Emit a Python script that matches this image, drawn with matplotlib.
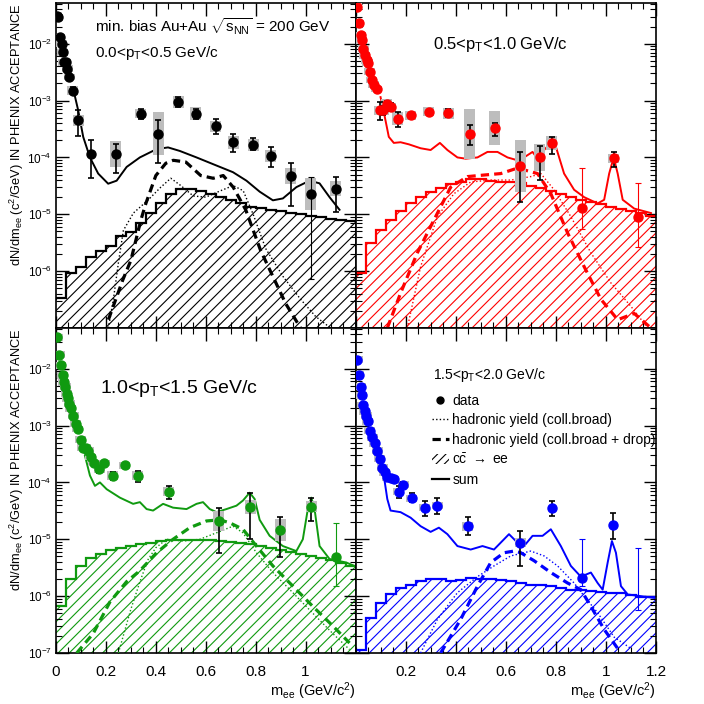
import numpy as np
import matplotlib
matplotlib.use("Agg")
import matplotlib.pyplot as plt
from matplotlib.lines import Line2D
from matplotlib.patches import Patch, Rectangle
from matplotlib.ticker import LogLocator, MultipleLocator, FixedLocator, FuncFormatter

plt.rcParams['font.family'] = ['Liberation Sans', 'DejaVu Sans']
plt.rcParams['mathtext.fontset'] = 'custom'
plt.rcParams['mathtext.rm'] = 'Liberation Sans'
plt.rcParams['mathtext.it'] = 'Liberation Sans:italic'
plt.rcParams['mathtext.default'] = 'regular'
plt.rcParams['hatch.linewidth'] = 0.8

# charm (cc -> ee) histogram, 30 bins of 0.04 GeV
hist_edges = np.linspace(0.0, 1.2, 31)

# ---------------- panel A : 0.0 < pT < 0.5 (black)
a_m = [0.004, 0.008, 0.016, 0.023, 0.027, 0.032, 0.040, 0.045, 0.053, 0.067, 0.089, 0.14,
       0.24, 0.34, 0.41, 0.49, 0.56, 0.64, 0.71, 0.79, 0.86, 0.94, 1.02, 1.12]
a_y = [0.031, 0.029, 0.013, 0.010, 0.0071, 0.0047, 0.0047, 0.0036, 0.0026, 0.0015, 4.5e-4, 1.15e-4,
       1.15e-4, 5.9e-4, 2.6e-4, 9.3e-4, 5.9e-4, 3.5e-4, 1.85e-4, 1.67e-4, 1.05e-4, 4.7e-5, 2.3e-5, 2.8e-5]
a_lo = [0.029, 0.027, 0.012, 0.0093, 0.0066, 0.0043, 0.0043, 0.0033, 0.0024, 0.0013, 2.4e-4, 4.3e-5,
        5.4e-5, 4.8e-4, 7.9e-5, 7.6e-4, 4.8e-4, 2.6e-4, 1.26e-4, 1.35e-4, 6.9e-5, 1.4e-5, 7.2e-7, 1.1e-5]
a_hi = [0.033, 0.031, 0.014, 0.011, 0.0077, 0.0051, 0.0051, 0.0039, 0.0028, 0.0017, 6.7e-4, 2.0e-4,
        1.75e-4, 7.2e-4, 4.5e-4, 1.15e-3, 7.2e-4, 4.7e-4, 2.6e-4, 2.2e-4, 1.5e-4, 7.9e-5, 4.5e-5, 4.5e-5]
a_sys = [1.15, 1.15, 1.15, 1.15, 1.15, 1.15, 1.15, 1.15, 1.15, 1.2, 1.25, 1.0,
         1.7, 1.2, 2.4, 1.27, 1.3, 1.27, 1.3, 1.27, 1.27, 1.4, 1.9, 1.35]
a_thin = [False] * 22 + [True, False]
a_hist = [3.4e-7, 9.1e-7, 1.2e-6, 1.75e-6, 2.3e-6, 2.75e-6, 4.2e-6, 4.9e-6, 7.1e-6, 1.05e-5,
          1.55e-5, 2.24e-5, 2.8e-5, 2.8e-5, 2.6e-5, 2.3e-5, 2.0e-5, 1.78e-5, 1.6e-5, 1.35e-5,
          1.28e-5, 1.2e-5, 1.14e-5, 1.07e-5, 1.0e-5, 9.4e-6, 8.9e-6, 8.3e-6, 7.9e-6, 7.6e-6]
a_sum_m = [0.069, 0.089, 0.109, 0.136, 0.169, 0.209, 0.243, 0.283, 0.336, 0.403, 0.449, 0.496,
           0.563, 0.643, 0.709, 0.763, 0.816, 0.869, 0.909, 0.963, 1.016, 1.056, 1.096, 1.136]
a_sum_y = [1.6e-3, 6.7e-4, 2.3e-4, 1.0e-4, 5.2e-5, 3.45e-5, 3.9e-5, 6.8e-5, 1.0e-4, 1.4e-4, 1.5e-4, 1.3e-4,
           1.0e-4, 7.2e-5, 5.5e-5, 3.9e-5, 2.5e-5, 1.76e-5, 1.9e-5, 3.0e-5, 3.9e-5, 3.5e-5, 2.0e-5, 1.2e-5]
a_drop_m = [0.21, 0.267, 0.30, 0.32, 0.34, 0.36, 0.40, 0.44, 0.47, 0.52, 0.58, 0.63, 0.67, 0.71,
            0.76, 0.82, 0.87, 0.92, 0.98]
a_drop_y = [1.4e-7, 6.9e-7, 1.55e-6, 3.5e-6, 7.9e-6, 1.55e-5, 4.8e-5, 7.9e-5, 8.9e-5, 8.3e-5, 4.8e-5,
            4.3e-5, 4.8e-5, 3.0e-5, 1.2e-5, 2.3e-6, 7.9e-7, 2.7e-7, 1e-7]
a_coll_m = [0.21, 0.23, 0.25, 0.27, 0.31, 0.37, 0.42, 0.46, 0.50, 0.55, 0.60, 0.66, 0.71, 0.75,
            0.79, 0.84, 0.91, 0.98, 1.04, 1.10]
a_coll_y = [1e-7, 3.2e-7, 1.4e-6, 5.2e-6, 1.05e-5, 1.8e-5, 3.0e-5, 4.3e-5, 3.2e-5, 2.1e-5, 2.0e-5,
            2.6e-5, 3.2e-5, 2.6e-5, 1.0e-5, 2.5e-6, 8e-7, 3.2e-7, 1.6e-7, 1e-7]

# ---------------- panel B : 0.5 < pT < 1.0 (red)
b_m = [0.004, 0.013, 0.020, 0.024, 0.031, 0.036, 0.044, 0.049, 0.056, 0.064, 0.073, 0.084, 0.097, 0.111,
       0.124, 0.140, 0.169, 0.22, 0.293, 0.371, 0.457, 0.556, 0.657, 0.735, 0.784, 0.903, 1.031, 1.129]
b_y = [0.045, 0.023, 0.014, 0.0115, 0.0082, 0.0063, 0.0051, 0.0046, 0.0032, 0.0023, 0.0019, 0.0016, 6.7e-4,
       6.7e-4, 8.8e-4, 7.7e-4, 4.8e-4, 5.5e-4, 6.4e-4, 6.0e-4, 2.6e-4, 3.3e-4, 7.1e-5, 1.0e-4, 1.8e-4,
       1.27e-5, 9.6e-5, 8.8e-6]
b_lo = [0.042, 0.021, 0.013, 0.0107, 0.0076, 0.0058, 0.0047, 0.0042, 0.0029, 0.0021, 0.0017, 0.0014, 4.5e-4,
        5.6e-4, 7.6e-4, 6.5e-4, 3.4e-4, 5.1e-4, 6.0e-4, 5.2e-4, 1.66e-4, 2.4e-4, 1.65e-5, 4.0e-5, 1.17e-4,
        5.4e-6, 6.9e-5, 2.7e-6]
b_hi = [0.048, 0.025, 0.015, 0.0123, 0.0088, 0.0068, 0.0055, 0.0050, 0.0035, 0.0025, 0.0021, 0.0018, 9.5e-4,
        7.9e-4, 1.0e-3, 9.0e-4, 6.2e-4, 5.9e-4, 6.8e-4, 7.1e-4, 3.7e-4, 4.1e-4, 1.25e-4, 1.6e-4, 2.3e-4,
        6.4e-5, 1.25e-4, 3.5e-5]
b_sys = [1.15] * 12 + [1.2, 1.2, 1.2, 1.2, 1.3, 1.2, 1.2, 1.25, 2.75, 2.0, 2.9, 1.7, 1.35, 1.0, 1.2, 1.0]
b_thin = [False] * 25 + [True, False, True]
b_hist = [9.1e-7, 3.1e-6, 5.3e-6, 7.9e-6, 1.12e-5, 1.55e-5, 2.0e-5, 2.5e-5, 2.9e-5, 3.4e-5,
          3.7e-5, 4.1e-5, 4.1e-5, 3.9e-5, 3.7e-5, 3.7e-5, 3.5e-5, 3.2e-5, 2.9e-5, 2.6e-5,
          2.3e-5, 2.0e-5, 1.8e-5, 1.65e-5, 1.5e-5, 1.35e-5, 1.26e-5, 1.15e-5, 1.05e-5, 9.2e-6]
b_sum_m = [0.10, 0.113, 0.133, 0.153, 0.18, 0.213, 0.26, 0.30, 0.337, 0.367, 0.407, 0.44, 0.487, 0.527,
           0.567, 0.607, 0.647, 0.673, 0.707, 0.727, 0.753, 0.78, 0.80, 0.833, 0.873, 0.913, 0.967, 0.993,
           1.013, 1.031, 1.047, 1.067, 1.113, 1.18]
b_sum_y = [1.15e-3, 6.3e-4, 2.3e-4, 1.8e-4, 1.85e-4, 1.7e-4, 1.45e-4, 1.35e-4, 1.8e-4, 1.35e-4, 1.0e-4,
           9.5e-5, 1.0e-4, 1.25e-4, 1.25e-4, 1.0e-4, 8.9e-5, 1.0e-4, 1.25e-4, 9.5e-5, 1.35e-4, 1.8e-4,
           1.55e-4, 5.2e-5, 2.7e-5, 2.0e-5, 1.55e-5, 1.8e-5, 5.2e-5, 1.0e-4, 5.2e-5, 1.8e-5, 1.26e-5, 1.05e-5]
b_drop_m = [0.127, 0.18, 0.247, 0.313, 0.38, 0.447, 0.513, 0.58, 0.647, 0.727, 0.78, 0.847, 0.913, 0.98,
            1.047, 1.113, 1.18]
b_drop_y = [1e-7, 4.1e-7, 2.1e-6, 7.9e-6, 3.0e-5, 4.6e-5, 4.9e-5, 5.2e-5, 6.5e-5, 5.2e-5, 2.3e-5, 4.7e-6,
            1.2e-6, 3.2e-7, 1.4e-7, 1.8e-7, 1e-7]
b_coll_m = [0.207, 0.26, 0.327, 0.393, 0.46, 0.54, 0.62, 0.70, 0.74, 0.793, 0.86, 0.94, 1.02, 1.10, 1.167]
b_coll_y = [1e-7, 1.2e-6, 9.1e-6, 2.3e-5, 3.7e-5, 4.0e-5, 4.0e-5, 4.6e-5, 5.2e-5, 2.7e-5, 9.1e-6, 2.1e-6,
            6.2e-7, 2.4e-7, 1e-7]

# ---------------- panel C : 1.0 < pT < 1.5 (green)
c_m = [0.005, 0.013, 0.020, 0.027, 0.032, 0.037, 0.043, 0.048, 0.053, 0.059, 0.069, 0.079, 0.088, 0.099,
       0.107, 0.120, 0.129, 0.139, 0.152, 0.173, 0.193, 0.227, 0.276, 0.327, 0.452, 0.653, 0.779, 0.899,
       1.023, 1.123]
c_y = [0.036, 0.0177, 0.0115, 0.0076, 0.0058, 0.0048, 0.0036, 0.0030, 0.0024, 0.0020, 0.0015, 0.00107,
       8.7e-4, 5.6e-4, 4.1e-4, 4.1e-4, 3.6e-4, 2.8e-4, 2.2e-4, 1.7e-4, 2.2e-4, 1.3e-4, 2.0e-4, 1.3e-4,
       6.8e-5, 2.1e-5, 3.7e-5, 1.45e-5, 3.7e-5, 4.8e-6]
c_lo = [0.034, 0.0167, 0.0108, 0.0071, 0.0054, 0.0045, 0.0034, 0.0028, 0.0022, 0.0019, 0.0014, 0.00099,
        8.0e-4, 5.1e-4, 3.7e-4, 3.7e-4, 3.3e-4, 2.5e-4, 1.95e-4, 1.45e-4, 2.0e-4, 1.1e-4, 1.85e-4, 1.0e-4,
        5.2e-5, 5.8e-6, 1.0e-5, 4.8e-6, 2.1e-5, 1.5e-6]
c_hi = [0.038, 0.0187, 0.0122, 0.0081, 0.0062, 0.0051, 0.0038, 0.0032, 0.0026, 0.0021, 0.0016, 0.00115,
        9.4e-4, 6.1e-4, 4.5e-4, 4.5e-4, 3.9e-4, 3.1e-4, 2.45e-4, 1.95e-4, 2.4e-4, 1.5e-4, 2.15e-4, 1.6e-4,
        8.6e-5, 3.6e-5, 6.6e-5, 2.5e-5, 5.4e-5, 1.9e-5]
c_sys = [1.15] * 21 + [1.2, 1.15, 1.2, 1.2, 1.5, 1.35, 1.55, 1.25, 1.0]
c_thin = [False] * 29 + [True]
c_hist = [6.7e-7, 2.0e-6, 3.4e-6, 4.6e-6, 5.5e-6, 6.4e-6, 6.9e-6, 7.6e-6, 8.1e-6, 8.7e-6,
          9.3e-6, 9.6e-6, 9.8e-6, 9.8e-6, 9.8e-6, 9.6e-6, 9.4e-6, 9.0e-6, 8.6e-6, 8.1e-6,
          7.6e-6, 7.0e-6, 6.4e-6, 5.9e-6, 5.4e-6, 5.1e-6, 4.7e-6, 4.3e-6, 3.9e-6, 3.4e-6]
c_sum_m = [0.116, 0.136, 0.156, 0.176, 0.203, 0.256, 0.309, 0.336, 0.363, 0.389, 0.429, 0.469, 0.523, 0.563,
           0.589, 0.616, 0.643, 0.683, 0.723, 0.749, 0.776, 0.796, 0.816, 0.856, 0.909, 0.963, 0.989, 1.009,
           1.023, 1.036, 1.056, 1.096, 1.163, 1.196]
c_sum_y = [2.95e-4, 1.32e-4, 8.7e-5, 1.0e-4, 7.6e-5, 5.4e-5, 4.2e-5, 4.5e-5, 3.4e-5, 3.2e-5, 4.2e-5, 3.6e-5,
           3.4e-5, 4.2e-5, 4.5e-5, 3.4e-5, 3.0e-5, 3.4e-5, 3.9e-5, 4.8e-5, 6.6e-5, 5.1e-5, 2.2e-5, 1.15e-5,
           7.6e-6, 6.2e-6, 1.0e-5, 3.4e-5, 5.4e-5, 3.4e-5, 7.6e-6, 4.5e-6, 3.9e-6, 3.4e-6]
c_drop_m = [0.083, 0.149, 0.216, 0.283, 0.336, 0.403, 0.469, 0.536, 0.603, 0.656, 0.696, 0.749, 0.803,
            0.869, 0.949, 1.029, 1.109, 1.176]
c_drop_y = [1e-7, 2.2e-7, 7.9e-7, 1.8e-6, 2.8e-6, 5.8e-6, 1e-5, 1.6e-5, 2.1e-5, 2.2e-5, 1.95e-5, 1.5e-5,
            7.6e-6, 3.4e-6, 1.5e-6, 6.6e-7, 3.0e-7, 1.5e-7]
c_coll_m = [0.25, 0.30, 0.34, 0.37, 0.40, 0.443, 0.509, 0.576, 0.643, 0.709, 0.749, 0.803, 0.869, 0.949,
            1.029, 1.109, 1.176]
c_coll_y = [1e-7, 5.9e-7, 2.0e-6, 4.5e-6, 7.1e-6, 1.0e-5, 9.3e-6, 1.0e-5, 1.3e-5, 1.7e-5, 1.3e-5, 5.8e-6,
            2.6e-6, 1.15e-6, 5e-7, 2.2e-7, 1.15e-7]

# ---------------- panel D : 1.5 < pT < 2.0 (blue)
d_m = [0.007, 0.013, 0.020, 0.024, 0.029, 0.036, 0.043, 0.049, 0.057, 0.067, 0.076, 0.087, 0.096, 0.107,
       0.116, 0.127, 0.140, 0.153, 0.173, 0.191, 0.224, 0.276, 0.327, 0.449, 0.657, 0.783, 0.903, 1.029]
d_y = [0.0145, 0.0078, 0.0048, 0.0034, 0.0023, 0.0018, 0.0015, 0.0012, 8.1e-4, 6.2e-4, 4.9e-4, 3.6e-4,
       2.6e-4, 1.8e-4, 1.5e-4, 1.23e-4, 1.18e-4, 1.15e-4, 6.9e-5, 9.1e-5, 5.3e-5, 3.6e-5, 3.9e-5, 1.7e-5,
       8.7e-6, 3.6e-5, 2.1e-6, 1.78e-5]
d_lo = [0.0137, 0.0073, 0.0045, 0.0032, 0.0021, 0.0017, 0.0014, 0.0011, 7.5e-4, 5.7e-4, 4.5e-4, 3.3e-4,
        2.4e-4, 1.65e-4, 1.37e-4, 1.12e-4, 1.07e-4, 1.04e-4, 5.4e-5, 8.0e-5, 4.6e-5, 2.6e-5, 2.8e-5, 1.2e-5,
        3.4e-6, 2.6e-5, 1.5e-6, 1.0e-5]
d_hi = [0.0153, 0.0083, 0.0051, 0.0036, 0.0025, 0.0019, 0.0016, 0.0013, 8.7e-4, 6.7e-4, 5.3e-4, 3.9e-4,
        2.8e-4, 1.95e-4, 1.63e-4, 1.34e-4, 1.29e-4, 1.26e-4, 8.7e-5, 1.02e-4, 6.4e-5, 4.8e-5, 5.4e-5, 2.5e-5,
        1.4e-5, 4.8e-5, 1.0e-5, 2.9e-5]
d_sys = [1.15] * 23 + [1.2, 1.2, 1.0, 1.0, 1.0]
d_thin = [False] * 26 + [True, False]
d_bar_m = [1.129]
d_bar_lo = [5.8e-7]
d_bar_hi = [7.1e-6]
d_hist = [1.15e-7, 4.2e-7, 7.6e-7, 1.07e-6, 1.4e-6, 1.6e-6, 1.83e-6, 2.0e-6, 1.97e-6, 1.83e-6,
          1.9e-6, 2.1e-6, 2.0e-6, 1.97e-6, 1.9e-6, 1.83e-6, 1.7e-6, 1.6e-6, 1.56e-6, 1.5e-6,
          1.4e-6, 1.3e-6, 1.27e-6, 1.22e-6, 1.17e-6, 1.15e-6, 1.12e-6, 1.05e-6, 9.8e-7, 9.8e-7]
d_sum_m = [0.113, 0.127, 0.14, 0.18, 0.22, 0.26, 0.30, 0.333, 0.367, 0.407, 0.46, 0.507, 0.553, 0.613,
           0.647, 0.673, 0.707, 0.747, 0.78, 0.82, 0.86, 0.90, 0.94, 0.967, 0.987, 1.007, 1.024, 1.04, 1.06,
           1.087, 1.14, 1.193]
d_sum_y = [1.32e-4, 5.1e-5, 3.2e-5, 3.0e-5, 2.4e-5, 1.7e-5, 1.35e-5, 1.6e-5, 1.23e-5, 7.6e-6, 6.6e-6, 7.6e-6,
           6.6e-6, 1.23e-5, 8.7e-6, 7.6e-6, 1.15e-5, 1.15e-5, 1.5e-5, 7.6e-6, 3.4e-6, 2.2e-6, 2.6e-6, 1.7e-6,
           1.3e-6, 3.9e-6, 9.3e-6, 5.8e-6, 1.5e-6, 1.07e-6, 1.0e-6, 9.3e-7]
d_drop_m = [0.34, 0.42, 0.487, 0.54, 0.593, 0.633, 0.66, 0.713, 0.78, 0.847, 0.90, 0.94, 0.993, 1.047]
d_drop_y = [1e-7, 3.9e-7, 1.5e-6, 3.9e-6, 5.8e-6, 6.2e-6, 5.8e-6, 4.2e-6, 2.6e-6, 1.7e-6, 1.3e-6, 6.6e-7,
            2.6e-7, 1.2e-7]
d_coll_m = [0.26, 0.327, 0.407, 0.487, 0.553, 0.62, 0.70, 0.753, 0.807, 0.873, 0.913, 0.967, 1.033, 1.10]
d_coll_y = [1e-7, 3.9e-7, 1.15e-6, 2.2e-6, 3.4e-6, 5.1e-6, 6.2e-6, 5.1e-6, 3.4e-6, 1.7e-6, 1.0e-6, 5.1e-7,
            1.9e-7, 1.2e-7]

DASH = (0, (2.6, 1.6))
DOT = (0, (1, 1.6))


def draw_panel(ax, col, m, y, lo, hi, sysf, thin, hist, sm, sy, dm, dy, om, oy):
    ax.stairs(hist, hist_edges, baseline=1e-9, fill=True, facecolor='none',
              edgecolor=col, hatch='///', linewidth=0, zorder=1)
    ax.stairs(hist, hist_edges, baseline=None, color=col, lw=1.6, zorder=2)
    ax.plot(om, oy, color=col, lw=1.0, ls=DOT, zorder=3)
    ax.plot(dm, dy, color=col, lw=2.3, ls=DASH, zorder=3)
    ax.plot(sm, sy, color=col, lw=1.4, zorder=3)
    for mi, yi, f in zip(m, y, sysf):
        if f > 1.0:
            ax.add_patch(Rectangle((mi - 0.022, yi / f), 0.044, yi * f - yi / f,
                                   facecolor='#bdbdbd', lw=0, zorder=4))
    m = np.array(m); y = np.array(y); lo = np.array(lo); hi = np.array(hi)
    t = np.array(thin)
    ax.errorbar(m[~t], y[~t], yerr=[y[~t] - lo[~t], hi[~t] - y[~t]], fmt='none',
                ecolor='black', elinewidth=1.2, capsize=2.5, capthick=1.2, zorder=5)
    if t.any():
        ax.errorbar(m[t], y[t], yerr=[y[t] - lo[t], hi[t] - y[t]], fmt='none',
                    ecolor=col, elinewidth=0.8, capsize=2.5, capthick=0.8, zorder=5)
    ax.plot(m, y, 'o', color=col, mec=col, ms=6.5, zorder=6)


fig = plt.figure(figsize=(7.04, 7.04), dpi=100)
W, H = 704.0, 704.0
x0, xm, x1 = 56, 355.5, 656
y0, ym, y1 = 3, 328, 653
pos = {
    'A': [x0 / W, 1 - ym / H, (xm - x0) / W, (ym - y0) / H],
    'B': [xm / W, 1 - ym / H, (x1 - xm) / W, (ym - y0) / H],
    'C': [x0 / W, 1 - y1 / H, (xm - x0) / W, (y1 - ym) / H],
    'D': [xm / W, 1 - y1 / H, (x1 - xm) / W, (y1 - ym) / H],
}
axA = fig.add_axes(pos['A'])
axB = fig.add_axes(pos['B'])
axC = fig.add_axes(pos['C'])
axD = fig.add_axes(pos['D'])

draw_panel(axA, 'black', a_m, a_y, a_lo, a_hi, a_sys, a_thin, a_hist,
           a_sum_m, a_sum_y, a_drop_m, a_drop_y, a_coll_m, a_coll_y)
draw_panel(axB, '#ff0000', b_m, b_y, b_lo, b_hi, b_sys, b_thin, b_hist,
           b_sum_m, b_sum_y, b_drop_m, b_drop_y, b_coll_m, b_coll_y)
draw_panel(axC, '#109a10', c_m, c_y, c_lo, c_hi, c_sys, c_thin, c_hist,
           c_sum_m, c_sum_y, c_drop_m, c_drop_y, c_coll_m, c_coll_y)
draw_panel(axD, '#0000ff', d_m, d_y, d_lo, d_hi, d_sys, d_thin, d_hist,
           d_sum_m, d_sum_y, d_drop_m, d_drop_y, d_coll_m, d_coll_y)
axD.vlines(d_bar_m, d_bar_lo, d_bar_hi, color='#0000ff', lw=0.8, zorder=5)
axD.plot(d_bar_m, d_bar_hi, '_', color='#0000ff', ms=5, mew=0.8, zorder=5)
axD.plot(d_bar_m, d_bar_lo, '_', color='#0000ff', ms=5, mew=0.8, zorder=5)


def log_fmt(v, p):
    e = int(round(np.log10(v)))
    return r'$10^{%d}$' % e


for name, ax in zip('ABCD', [axA, axB, axC, axD]):
    ax.set_yscale('log')
    ax.set_xlim(0, 1.2)
    ax.set_ylim(1e-7, 0.052)
    ax.xaxis.set_major_locator(MultipleLocator(0.2))
    ax.xaxis.set_minor_locator(MultipleLocator(0.05))
    ax.yaxis.set_major_locator(FixedLocator([1e-7, 1e-6, 1e-5, 1e-4, 1e-3, 1e-2]))
    ax.yaxis.set_minor_locator(LogLocator(base=10, subs=np.arange(2, 10), numticks=20))
    ax.tick_params(which='both', direction='in', top=True, right=True)
    ax.tick_params(axis='y', labelsize=8.5, pad=3)
    ax.tick_params(axis='x', labelsize=11, pad=9)
    ax.tick_params(which='major', length=9, width=1)
    ax.tick_params(which='minor', length=4.5, width=0.8)
    for s in ax.spines.values():
        s.set_linewidth(1.2)
    if name in 'AC':
        if name == 'A':
            ax.yaxis.set_major_formatter(FuncFormatter(lambda v, p: '' if v < 5e-7 else log_fmt(v, p)))
        else:
            ax.yaxis.set_major_formatter(FuncFormatter(log_fmt))
        ax.yaxis.set_minor_formatter(FuncFormatter(lambda v, p: ''))
        ax.set_ylabel(r'dN/dm$_{ee}$ (c$^{2}$/GeV) IN PHENIX ACCEPTANCE', fontsize=9.3,
                      loc='top', labelpad=1)
    else:
        ax.set_yticklabels([])
        ax.yaxis.set_minor_formatter(FuncFormatter(lambda v, p: ''))
    if name in 'AB':
        ax.set_xticklabels([])
    else:
        ax.set_xlabel(r'm$_{ee}$ (GeV/c$^{2}$)', fontsize=10.5, loc='right', labelpad=1)

axC.set_xticks([0, 0.2, 0.4, 0.6, 0.8, 1.0])
axC.set_xticklabels(['0', '0.2', '0.4', '0.6', '0.8', '1'])
axD.set_xticks([0.2, 0.4, 0.6, 0.8, 1.0, 1.2])
axD.set_xticklabels(['0.2', '0.4', '0.6', '0.8', '1', '1.2'])

axA.text(0.13, 0.926, r'min. bias Au+Au $\sqrt{s_{NN}}$ = 200 GeV', transform=axA.transAxes,
         fontsize=11, va='center', ha='left')
axA.text(0.13, 0.846, r'0.0<p$_{T}$<0.5 GeV/c', transform=axA.transAxes,
         fontsize=11, va='center', ha='left')
axB.text(0.258, 0.871, r'0.5<p$_{T}$<1.0 GeV/c', transform=axB.transAxes,
         fontsize=12, va='center', ha='left')
axC.text(0.147, 0.815, r'1.0<p$_{T}$<1.5 GeV/c', transform=axC.transAxes,
         fontsize=14, va='center', ha='left')
axD.text(0.258, 0.855, r'1.5<p$_{T}$<2.0 GeV/c', transform=axD.transAxes,
         fontsize=10, va='center', ha='left')

handles = [
    Line2D([], [], marker='o', color='black', ls='none', ms=5),
    Line2D([], [], color='black', lw=1.0, ls=DOT),
    Line2D([], [], color='black', lw=2.3, ls=DASH),
    Patch(facecolor='none', edgecolor='black', hatch='////', lw=0),
    Line2D([], [], color='black', lw=1.6),
]
labels = ['data', 'hadronic yield (coll.broad)', 'hadronic yield (coll.broad + drop)',
          r'c$\bar{c}$ $\rightarrow$ ee', 'sum']
axD.legend(handles, labels, loc='upper left', bbox_to_anchor=(0.255, 0.798), frameon=False,
           fontsize=10, handlelength=1.2, handletextpad=0.25, labelspacing=0.4,
           borderpad=0, borderaxespad=0)

fig.savefig('out.png', dpi=100)
